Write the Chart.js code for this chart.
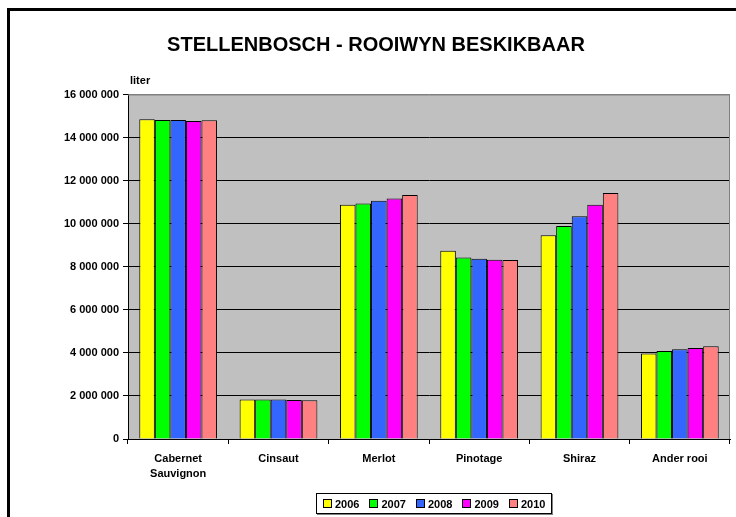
<!DOCTYPE html>
<html>
<head>
<meta charset="utf-8">
<script src="https://cdn.jsdelivr.net/npm/chart.js@4/dist/chart.umd.min.js"></script>
<style>
  html, body { margin: 0; padding: 0; background: #fff; overflow: hidden; }
  #wrap { position: relative; width: 736px; height: 517px; }
  #frame { position: absolute; left: 7px; top: 8px; width: 760px; height: 540px;
    border-left: 3px solid #000; border-top: 3px solid #000; pointer-events: none; }
  #legend { position: absolute; left: 316px; top: 493px; height: 19px; padding: 0 6px;
    border: 1px solid #000; box-shadow: 1px 1px 0 #808080; background: #fff;
    display: flex; align-items: center; font: bold 11px Arial, "Liberation Sans", sans-serif; }
  #legend span.item { display: flex; align-items: center; margin-right: 10px; }
  #legend span.item:last-child { margin-right: 0; }
  #legend i { display: inline-block; width: 7px; height: 7px; border: 1px solid #000; margin-right: 3px; }
</style>
</head>
<body>
<div id="wrap">
  <canvas id="c" width="736" height="517"></canvas>
  <div id="frame"></div>
  <div id="legend"></div>
</div>
<script>
// categories + one series per year (liter)
var CATEGORIES = [['Cabernet', 'Sauvignon'], 'Cinsaut', 'Merlot', 'Pinotage', 'Shiraz', 'Ander rooi'];
var YEARS = ['2006', '2007', '2008', '2009', '2010'];
var COLORS = ['#FFFF00', '#00FF00', '#3366FF', '#FF00FF', '#FF8080'];

var V2006 = [14850000, 1840000, 10880000, 8740000, 9460000, 3970000];
var V2007 = [14810000, 1830000, 10940000, 8430000, 9890000, 4090000];
var V2008 = [14810000, 1830000, 11060000, 8370000, 10350000, 4170000];
var V2009 = [14770000, 1810000, 11170000, 8320000, 10880000, 4230000];
var V2010 = [14800000, 1800000, 11330000, 8310000, 11420000, 4310000];
var SERIES = [V2006, V2007, V2008, V2009, V2010];

var Y_MAX = 16000000, Y_STEP = 2000000;
var FONT = 'Arial, "Liberation Sans", sans-serif';

function fmtSpace(v) {
  return String(v).replace(/\B(?=(\d{3})+(?!\d))/g, ' ');
}

// grey plot background + "liter" unit label
var plotBg = {
  id: 'plotBg',
  beforeDraw: function (chart) {
    var a = chart.chartArea, ctx = chart.ctx;
    ctx.save();
    ctx.fillStyle = '#C0C0C0';
    ctx.fillRect(a.left, a.top, a.right - a.left, a.bottom - a.top);
    ctx.restore();
  },
  afterDraw: function (chart) {
    var a = chart.chartArea, ctx = chart.ctx;
    ctx.save();
    ctx.font = 'bold 11px ' + FONT;
    ctx.fillStyle = '#000';
    ctx.textBaseline = 'middle';
    ctx.fillText('liter', a.left + 2, a.top - 14);
    // plot border top/right
    ctx.strokeStyle = '#808080';
    ctx.lineWidth = 1;
    ctx.beginPath();
    ctx.moveTo(a.left, a.top + 0.5);
    ctx.lineTo(a.right - 0.5, a.top + 0.5);
    ctx.lineTo(a.right - 0.5, a.bottom);
    ctx.stroke();
    ctx.restore();
  }
};

new Chart(document.getElementById('c'), {
  type: 'bar',
  data: {
    labels: CATEGORIES,
    datasets: SERIES.map(function (d, i) {
      return {
        label: YEARS[i],
        data: d,
        backgroundColor: COLORS[i],
        borderColor: '#000',
        borderWidth: 1,
        categoryPercentage: 0.775,
        barPercentage: 1.0,
      };
    }),
  },
  options: {
    responsive: false,
    animation: false,
    events: [],
    layout: { padding: { left: 22, right: 6, top: 10, bottom: 28 } },
    plugins: {
      legend: { display: false },
      tooltip: { enabled: false },
      title: {
        display: true,
        text: 'STELLENBOSCH - ROOIWYN BESKIKBAAR',
        color: '#000',
        font: { family: FONT, size: 20, weight: 'bold', lineHeight: 1.2 },
        padding: { top: 23, bottom: 37.5 },
      },
    },
    scales: {
      x: {
        grid: { display: true, offset: true, drawOnChartArea: false, drawTicks: true, tickLength: 5, color: '#000' },
        border: { color: '#000' },
        ticks: { color: '#000', font: { family: FONT, size: 11, weight: 'bold', lineHeight: 1.4 }, padding: 7, maxRotation: 0, autoSkip: false },
        afterFit: function (s) { s.height = 50; },
      },
      y: {
        min: 0, max: Y_MAX,
        grid: {
          color: function (c) { return c.tick && c.tick.value === Y_MAX ? '#808080' : '#000'; },
          tickColor: '#000',
          tickLength: 5,
        },
        border: { color: '#000' },
        ticks: {
          stepSize: Y_STEP,
          color: '#000',
          padding: 4,
          font: { family: FONT, size: 11, weight: 'bold' },
          callback: function (v) { return fmtSpace(v); },
        },
        afterFit: function (s) { s.width = 106; },
      },
    },
  },
  plugins: [plotBg],
});

// legend box
var leg = document.getElementById('legend');
YEARS.forEach(function (y, i) {
  var s = document.createElement('span');
  s.className = 'item';
  s.innerHTML = '<i style="background:' + COLORS[i] + '"></i>' + y;
  leg.appendChild(s);
});
</script>
</body>
</html>
